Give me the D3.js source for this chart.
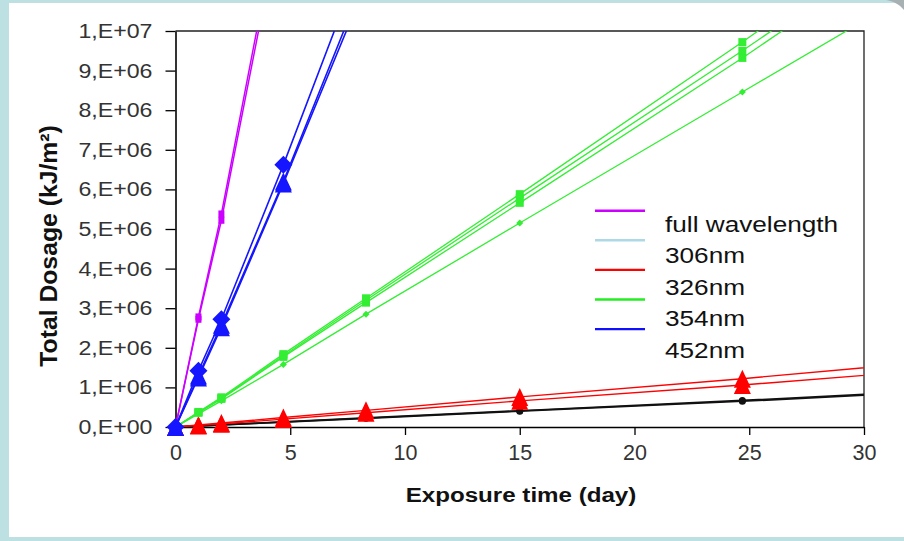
<!DOCTYPE html>
<html><head><meta charset="utf-8">
<script src="https://cdn.jsdelivr.net/npm/d3@7"></script>
<style>html,body{margin:0;padding:0;background:#fff;} svg{display:block}</style>
</head><body><svg id="c" width="904" height="541"></svg>
<script>
// ---------- data ----------
const days = [0, 1, 2, 4.7, 8.3, 15, 24.7, 31];

const fullA  = [0, 2.78e6, 5.38e6, 13.5e6];
const fullB  = [0, 2.72e6, 5.22e6, 13.2e6];
const blueD  = [0, 1.42e6, 2.72e6, 6.62e6, 12.1e6];
const blueT1 = [0, 1.25e6, 2.52e6, 6.15e6, 11.2e6];
const blueT2 = [0, 1.30e6, 2.58e6, 6.20e6, 11.4e6];
const greenA = [0, 0.38e6, 0.75e6, 1.84e6, 3.25e6, 5.88e6, 9.72e6, 12.3e6];
const greenB = [0, 0.37e6, 0.73e6, 1.80e6, 3.20e6, 5.78e6, 9.50e6, 12.0e6];
const greenC = [0, 0.36e6, 0.71e6, 1.77e6, 3.14e6, 5.66e6, 9.32e6, 11.8e6];
const greenD = [0, 0.33e6, 0.66e6, 1.58e6, 2.85e6, 5.15e6, 8.46e6, 10.6e6];
const redA   = [0, 0.05e6, 0.10e6, 0.24e6, 0.42e6, 0.76e6, 1.22e6, 1.55e6];
const redB   = [0, 0.04e6, 0.08e6, 0.20e6, 0.36e6, 0.66e6, 1.06e6, 1.35e6];
const blackA = [0, 0.027e6, 0.054e6, 0.13e6, 0.23e6, 0.41e6, 0.67e6, 0.85e6];
const blackB = [0, 0.026e6, 0.052e6, 0.125e6, 0.22e6, 0.40e6, 0.65e6, 0.83e6];

const xTicks = [0, 5, 10, 15, 20, 25, 30];
const xTickLabels = ["0", "5", "10", "15", "20", "25", "30"];
const yTicks = [0, 1e6, 2e6, 3e6, 4e6, 5e6, 6e6, 7e6, 8e6, 9e6, 1e7];
const yTickLabels = ["0,E+00","1,E+06","2,E+06","3,E+06","4,E+06","5,E+06","6,E+06","7,E+06","8,E+06","9,E+06","1,E+07"];

const legendNames  = ["full wavelength", "306nm", "326nm", "354nm", "452nm"];
const legendColors = ["#cc00ff", "#add8e6", "#ff0000", "#22ee22", "#1010ff"];

const xTitle = "Exposure time (day)";
const yTitle = "Total Dosage (kJ/m²)";

// ---------- series (draw order) ----------
const series = [
  {v: blackA, color: "#111111", marker: "circle", w: 7, h: 7, lw: 1.7},
  {v: blackB, color: "#111111", marker: "circle", w: 7, h: 7, lw: 1.7},
  {v: redA,   color: "#ff0000", marker: "triangle", w: 17, h: 18, lw: 1.4},
  {v: redB,   color: "#ff0000", marker: "triangle", w: 17, h: 18, lw: 1.4},
  {v: greenD, color: "#33ee33", marker: "diamond", w: 7, h: 7, lw: 1.3},
  {v: greenC, color: "#33ee33", marker: "square", w: 8, h: 8, lw: 1.3},
  {v: greenB, color: "#33ee33", marker: "square", w: 8, h: 8, lw: 1.3},
  {v: greenA, color: "#33ee33", marker: "square", w: 8, h: 8, lw: 1.3},
  {v: fullB,  color: "#cc00ff", marker: "square", w: 6, h: 7, lw: 1.5},
  {v: fullA,  color: "#cc00ff", marker: "square", w: 6, h: 7, lw: 1.5},
  {v: blueT2, color: "#1515ff", marker: "triangle", w: 17, h: 18, lw: 1.6},
  {v: blueT1, color: "#1515ff", marker: "triangle", w: 17, h: 18, lw: 1.6},
  {v: blueD,  color: "#1515ff", marker: "diamond", w: 18, h: 18, lw: 1.6}
];

// ---------- layout ----------
const svg = d3.select("#c");
const L = 175.5, R = 864, T = 31, B = 427;
const x = d3.scaleLinear().domain([0, 30]).range([L, R]);
const y = d3.scaleLinear().domain([0, 1e7]).range([B, T]);
const FONT = "Arial, 'Liberation Sans', sans-serif";

// background frame
svg.append("rect").attr("width", 904).attr("height", 541).attr("fill", "#bde0e3");
svg.append("rect").attr("x", 9).attr("y", 3).attr("width", 895).attr("height", 534).attr("fill", "#ffffff");
svg.append("path").attr("d", "M886,0 L904,0 L904,10 C899,4 893,1 886,0 Z").attr("fill", "#a7b0b3");

// clip
svg.append("clipPath").attr("id", "plot").append("rect")
  .attr("x", L).attr("y", T).attr("width", R - L).attr("height", B - T);

// frame top/right
svg.append("path").attr("d", `M${L},${T}H${R}V${B}`).attr("fill", "none")
  .attr("stroke", "#222").attr("stroke-width", 1.3);

// axes
const SX = 1.13;
const yAxis = svg.append("g").attr("transform", `translate(${L},0)`)
  .call(d3.axisLeft(y).tickValues(yTicks).tickFormat((d, i) => yTickLabels[i]).tickSize(10).tickPadding(13).tickSizeOuter(0));
const xAxis = svg.append("g").attr("transform", `translate(0,${B})`)
  .call(d3.axisBottom(x).tickValues(xTicks).tickFormat((d, i) => xTickLabels[i]).tickSize(8).tickPadding(10).tickSizeOuter(0));
[yAxis, xAxis].forEach(g => {
  g.select(".domain").attr("stroke", "#000").attr("stroke-width", 1.6);
  g.selectAll(".tick line").attr("stroke", "#000").attr("stroke-width", 1.3);
  g.selectAll(".tick text").attr("font-family", FONT).attr("fill", "#333");
});
yAxis.selectAll(".tick text").attr("font-size", 20.5).each(function() {
  const t = d3.select(this); const tx = +t.attr("x");
  t.attr("x", 0).attr("transform", `translate(${tx},0) scale(${SX},1)`);
});
xAxis.selectAll(".tick text").attr("font-size", 21.5);

// lines
const lineGen = d3.line().x((d, i) => x(days[i])).y(d => y(d));
const gLines = svg.append("g").attr("clip-path", "url(#plot)");
series.forEach(s => {
  gLines.append("path").datum(s.v).attr("d", lineGen)
    .attr("fill", "none").attr("stroke", s.color).attr("stroke-width", s.lw);
});

// markers
function markerPath(type, w, h) {
  const p = d3.path();
  if (type === "triangle") { p.moveTo(-w/2, h/2); p.lineTo(w/2, h/2); p.lineTo(0, -h/2); p.closePath(); }
  else if (type === "diamond") { p.moveTo(0, -h/2); p.lineTo(w/2, 0); p.lineTo(0, h/2); p.lineTo(-w/2, 0); p.closePath(); }
  else if (type === "square") { p.rect(-w/2, -h/2, w, h); }
  else { p.arc(0, 0, w/2, 0, 2 * Math.PI); }
  return p.toString();
}
const gMarks = svg.append("g");
series.forEach(s => {
  s.v.forEach((v, i) => {
    if (days[i] > 30 || v > 1e7) return;
    gMarks.append("path").attr("d", markerPath(s.marker, s.w, s.h))
      .attr("transform", `translate(${x(days[i])},${y(v)})`)
      .attr("fill", s.color).attr("stroke", "none");
  });
});

// legend
const lg = svg.append("g");
legendNames.forEach((n, i) => {
  const ly = 210.7 + i * 29.6;
  lg.append("line").attr("x1", 595).attr("x2", 645).attr("y1", ly).attr("y2", ly)
    .attr("stroke", legendColors[i]).attr("stroke-width", 2.4);
  lg.append("text").attr("transform", `translate(665,${231.5 + i * 31.6}) scale(1.19,1)`)
    .attr("font-family", FONT).attr("font-size", 22)
    .attr("fill", "#111").text(n);
});

// titles
svg.append("text").attr("transform", `translate(521,502) scale(1.15,1)`).attr("text-anchor", "middle")
  .attr("font-family", FONT).attr("font-weight", "bold")
  .attr("font-size", 21).attr("fill", "#111").text(xTitle);
svg.append("text").attr("transform", `translate(57,246) rotate(-90) scale(1.1,1.06)`).attr("text-anchor", "middle")
  .attr("font-family", FONT).attr("font-weight", "bold")
  .attr("font-size", 22.5).attr("fill", "#111").text(yTitle);
</script>
</body></html>
